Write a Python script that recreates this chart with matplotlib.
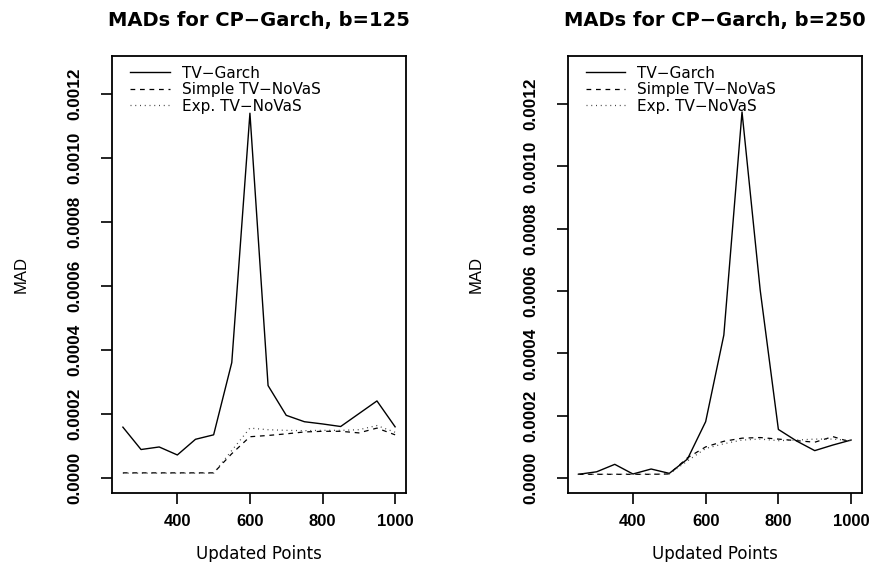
import matplotlib
matplotlib.use("Agg")
import matplotlib.pyplot as plt
from matplotlib.ticker import FixedLocator, FormatStrFormatter

# ---------------- data ----------------
updated_points = [250, 300, 350, 400, 450, 500, 550, 600, 650, 700, 750, 800, 850, 900, 950, 1000]

# b = 125
garch_125 = [1.58e-4, 0.88e-4, 0.96e-4, 0.71e-4, 1.20e-4, 1.34e-4, 3.60e-4, 11.40e-4,
             2.88e-4, 1.95e-4, 1.75e-4, 1.68e-4, 1.60e-4, 2.00e-4, 2.40e-4, 1.59e-4]
simple_125 = [0.15e-4, 0.15e-4, 0.15e-4, 0.15e-4, 0.15e-4, 0.15e-4, 0.75e-4, 1.28e-4,
              1.32e-4, 1.37e-4, 1.43e-4, 1.45e-4, 1.45e-4, 1.40e-4, 1.55e-4, 1.34e-4]
exp_125 = [0.14e-4, 0.14e-4, 0.14e-4, 0.14e-4, 0.14e-4, 0.14e-4, 0.85e-4, 1.55e-4,
           1.50e-4, 1.48e-4, 1.47e-4, 1.48e-4, 1.48e-4, 1.50e-4, 1.63e-4, 1.42e-4]

# b = 250
garch_250 = [0.12e-4, 0.20e-4, 0.44e-4, 0.13e-4, 0.29e-4, 0.15e-4, 0.61e-4, 1.81e-4,
             4.59e-4, 11.75e-4, 6.03e-4, 1.56e-4, 1.19e-4, 0.88e-4, 1.06e-4, 1.22e-4]
simple_250 = [0.12e-4, 0.12e-4, 0.12e-4, 0.12e-4, 0.12e-4, 0.13e-4, 0.65e-4, 1.00e-4,
              1.18e-4, 1.28e-4, 1.30e-4, 1.25e-4, 1.20e-4, 1.15e-4, 1.33e-4, 1.15e-4]
exp_250 = [0.12e-4, 0.12e-4, 0.12e-4, 0.12e-4, 0.12e-4, 0.13e-4, 0.55e-4, 0.95e-4,
           1.10e-4, 1.22e-4, 1.25e-4, 1.20e-4, 1.22e-4, 1.25e-4, 1.25e-4, 1.20e-4]

series_labels = ["TV\u2212Garch", "Simple TV\u2212NoVaS", "Exp. TV\u2212NoVaS"]
titles = ["MADs for CP\u2212Garch, b=125", "MADs for CP\u2212Garch, b=250"]
x_ticks = [400, 600, 800, 1000]
y_ticks = [0.0, 0.0002, 0.0004, 0.0006, 0.0008, 0.0010, 0.0012]
x_label = "Updated Points"
y_label = "MAD"

# ---------------- figure ----------------
W, H = 879, 562
fig = plt.figure(figsize=(W / 100, H / 100), dpi=100)

def frac_rect(x0, x1, ytop, ybot):
    return [x0 / W, 1 - ybot / H, (x1 - x0) / W, (ybot - ytop) / H]

panels = [
    dict(rect=frac_rect(112, 406, 56, 493), ylim=(-4.8e-5, 1.319e-3),
         data=(garch_125, simple_125, exp_125), title=titles[0]),
    dict(rect=frac_rect(567.5, 862, 56, 493), ylim=(-4.8e-5, 1.3546e-3),
         data=(garch_250, simple_250, exp_250), title=titles[1]),
]

narrow = ["Liberation Sans Narrow", "Liberation Sans", "DejaVu Sans"]
wide = ["DejaVu Sans"]

for p in panels:
    ax = fig.add_axes(p["rect"])
    g, s, e = p["data"]
    ax.plot(updated_points, g, color="black", lw=1.0, linestyle="-", label=series_labels[0])
    ax.plot(updated_points, s, color="black", lw=0.9, linestyle=(0, (3.8, 3.8)), label=series_labels[1])
    ax.plot(updated_points, e, color="#444444", lw=0.9, linestyle=(0, (0.8, 3.0)), label=series_labels[2])

    ax.set_xlim(220, 1030)
    ax.set_ylim(*p["ylim"])

    for sp in ax.spines.values():
        sp.set_linewidth(1.3)
        sp.set_color("black")

    ax.xaxis.set_major_locator(FixedLocator(x_ticks))
    ax.yaxis.set_major_locator(FixedLocator(y_ticks))
    ax.yaxis.set_major_formatter(FormatStrFormatter("%.4f"))
    ax.tick_params(axis="both", direction="out", length=8, width=1.2, colors="black")
    ax.tick_params(axis="x", pad=7)
    ax.tick_params(axis="y", pad=13)

    for lab in ax.get_xticklabels():
        lab.set_fontfamily(["Liberation Sans", "DejaVu Sans"])
        lab.set_fontweight("bold")
        lab.set_fontsize(12)
    for lab in ax.get_yticklabels():
        lab.set_fontfamily(narrow)
        lab.set_fontweight("bold")
        lab.set_fontsize(12.3)
        lab.set_rotation(90)
        lab.set_verticalalignment("center")
        lab.set_horizontalalignment("right")

    ax.set_title(p["title"], fontfamily=wide, fontweight="bold", fontsize=14, pad=21.6)

    ax.set_xlabel(x_label, fontfamily=wide, fontsize=12)
    ax.xaxis.label.set_verticalalignment("baseline")
    ax.xaxis.set_label_coords(0.5, -66 / 437)

    ax.set_ylabel(y_label, fontfamily=narrow, fontsize=12)
    ax.yaxis.label.set_verticalalignment("center")
    ax.yaxis.label.set_horizontalalignment("center")
    ax.yaxis.set_label_coords(-91 / 294.5, 0.5)

    ax.legend(loc="upper left", bbox_to_anchor=(18 / 294.5, 1 - 9.5 / 437),
              frameon=False, prop={"family": wide, "size": 11},
              handlelength=2.6, handletextpad=0.8, labelspacing=0.1,
              borderpad=0, borderaxespad=0)

fig.savefig("out.png", dpi=100)
